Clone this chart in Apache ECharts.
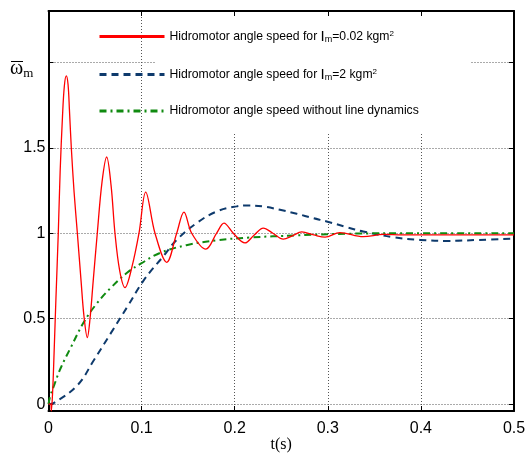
<!DOCTYPE html>
<html><head><meta charset="utf-8">
<script src="https://cdn.jsdelivr.net/npm/echarts@6/dist/echarts.min.js"></script>
<style>html,body{margin:0;padding:0;background:#fff}#c{width:528px;height:455px}</style>
</head><body><div id="c"></div>
<script>
// ---- data ----
const tRed = [0,0.0025,0.003,0.0045,0.006,0.008,0.0105,0.0125,0.015,0.017,0.0191,0.021,0.0225,0.0245,0.0275,0.031,0.035,0.038,0.0417,0.0446,0.048,0.0524,0.0575,0.0625,0.0672,0.0714,0.0765,0.0822,0.0895,0.0972,0.1044,0.1144,0.127,0.1377,0.1455,0.1538,0.169,0.1806,0.1885,0.1985,0.211,0.221,0.2307,0.241,0.2522,0.262,0.272,0.285,0.297,0.313,0.338,0.36,0.38,0.42,0.46,0.5];
const vRed = [0,0,-0.04,0.08,0.3,0.62,1.0,1.36,1.68,1.86,1.92,1.87,1.72,1.5,1.24,1.0,0.72,0.52,0.39,0.5,0.72,1.0,1.3,1.446,1.28,1.0,0.78,0.682,0.8,1.0,1.241,1.0,0.83,1.0,1.124,1.0,0.907,1.0,1.059,1.0,0.943,0.99,1.03,1.0,0.965,0.985,1.008,0.99,0.977,1.004,0.98,0.993,0.99,0.99,0.99,0.99];
const tBlue = [0,0.006,0.031,0.049,0.0668,0.0847,0.1026,0.123,0.1377,0.159,0.1806,0.202,0.215,0.23,0.2487,0.2666,0.2844,0.2988,0.32,0.338,0.37,0.399,0.428,0.463,0.5];
const vBlue = [0,0.008,0.11,0.26,0.414,0.57,0.727,0.863,0.961,1.059,1.127,1.157,1.162,1.157,1.137,1.114,1.088,1.069,1.036,1.01,0.977,0.961,0.955,0.961,0.969];
const tGreen = [0,0.002,0.006,0.013,0.0238,0.038,0.052,0.0668,0.0847,0.1,0.12,0.148,0.18,0.216,0.266,0.32,0.4,0.5];
const vGreen = [0,0.05,0.11,0.21,0.33,0.48,0.59,0.68,0.77,0.825,0.885,0.93,0.958,0.975,0.987,0.997,1.0,1.0];
const xTicks = [0,0.1,0.2,0.3,0.4,0.5];
const yTicks = [0,0.5,1,1.5,2];
const yLabels = [0,0.5,1,1.5];
const seriesNames = ['Im=0.02','Im=2','noline'];
const legendTexts = {
  'Im=0.02': 'Hidromotor angle speed for {i|I}{s|m}=0.02 kgm{p|2}',
  'Im=2': 'Hidromotor angle speed for {i|I}{s|m}=2 kgm{p|2}',
  'noline': 'Hidromotor angle speed without line dynamics'
};
// ----
const zip = (a,b)=>a.map((v,i)=>[v,b[i]]);
const SANS = '"Liberation Sans",Arial,sans-serif';
const SERIF = '"Liberation Serif","DejaVu Serif",serif';
const chart = echarts.init(document.getElementById('c'), null, {renderer:'canvas'});
const axisLineBlack = w => ({show:true, onZero:false, lineStyle:{color:'#000', width:w}});
chart.setOption({
  animation:false,
  backgroundColor:'#fff',
  grid: {left:48.5, right:14, top:11, bottom:44, containLabel:false, outerBoundsMode:'none'},
  graphic: [
    {type:'rect', z:1, silent:true, shape:{x:155, y:17, width:315, height:116}, style:{fill:'#fff'}},
    {type:'text', z:5, left:10, top:59, style:{
      text:'{w|ω}{m|m}', rich:{
        w:{fontFamily:SERIF, fontSize:20, fill:'#000'},
        m:{fontFamily:SERIF, fontSize:13, fill:'#000', padding:[9,0,0,0]}
      }}},
    {type:'line', z:5, silent:true, shape:{x1:11, y1:61.5, x2:23, y2:61.5}, style:{stroke:'#000', lineWidth:1}}
  ],
  legend: {
    orient:'vertical', left:98, top:29, padding:0, itemWidth:65, itemHeight:14, itemGap:23,
    data: seriesNames,
    lineStyle:{width:3},
    itemStyle:{opacity:0},
    textStyle:{fontFamily:SANS, fontSize:12.2, color:'#000',
      rich:{
        i:{fontFamily:SANS, fontSize:15, color:'#000'},
        s:{fontFamily:SANS, fontSize:9, color:'#000', padding:[6,0,0,0]},
        p:{fontFamily:SANS, fontSize:8, color:'#000', padding:[0,0,5,0]}
      }},
    formatter: n => legendTexts[n]
  },
  xAxis: [
    {type:'value', min:0, max:0.5, interval:0.1, position:'bottom',
     name:'t(s)', nameLocation:'middle', nameGap:26, nameMoveOverlap:false,
     nameTextStyle:{fontFamily:SERIF, fontSize:16, color:'#000'},
     axisLine:axisLineBlack(2),
     axisTick:{show:true, inside:true, length:5, lineStyle:{color:'#000', width:1}},
     axisLabel:{show:true, margin:10, fontFamily:SANS, fontSize:16, color:'#000',
       formatter: v => xTicks.some(t=>Math.abs(t-v)<1e-9) ? String(+v.toFixed(1)) : ''},
     splitLine:{show:true, lineStyle:{color:'#555', width:1, type:[1,2]}}},
    {type:'value', min:0, max:0.5, interval:0.1, position:'top',
     axisLine:axisLineBlack(2),
     axisTick:{show:true, inside:true, length:5, lineStyle:{color:'#000', width:1}},
     axisLabel:{show:false}, splitLine:{show:false}}
  ],
  yAxis: [
    {type:'value', min:-0.04, max:2.3, position:'left',
     axisLine:axisLineBlack(2),
     axisTick:{show:true, inside:true, length:5, customValues:yTicks, lineStyle:{color:'#000', width:1}},
     axisLabel:{show:true, margin:3, customValues:yLabels, fontFamily:SANS, fontSize:16, color:'#000',
       formatter: v => String(v)},
     splitLine:{show:true, lineStyle:{color:'#555', width:1, type:[1,2]}}},
    {type:'value', min:-0.04, max:2.3, position:'right',
     axisLine:axisLineBlack(2),
     axisTick:{show:true, inside:true, length:5, customValues:yTicks, lineStyle:{color:'#000', width:1}},
     axisLabel:{show:false}, splitLine:{show:false}}
  ],
  series: [
    {name:seriesNames[0], type:'line', z:4, data:zip(tRed,vRed), showSymbol:false, symbol:'none',
     smooth:0.35, lineStyle:{color:'#ff0000', width:1.3}, itemStyle:{color:'#ff0000'}},
    {name:seriesNames[1], type:'line', z:3, data:zip(tBlue,vBlue), showSymbol:false, symbol:'none',
     smooth:0.4, lineStyle:{color:'#0e3a6c', width:2, type:[7,5]}, itemStyle:{color:'#0e3a6c'}},
    {name:seriesNames[2], type:'line', z:3, data:zip(tGreen,vGreen), showSymbol:false, symbol:'none',
     smooth:0.4, lineStyle:{color:'#108a10', width:2, type:[7,4,2,4]}, itemStyle:{color:'#108a10'}}
  ]
});
</script></body></html>
